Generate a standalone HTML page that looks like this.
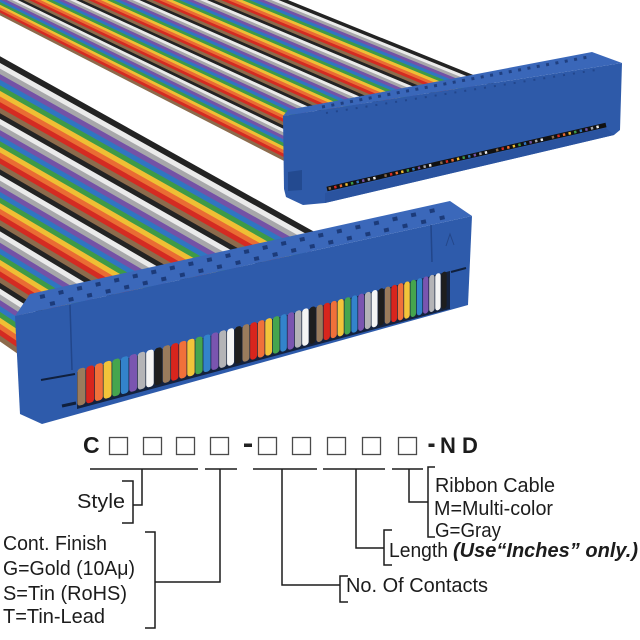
<!DOCTYPE html>
<html><head><meta charset="utf-8">
<style>
html,body{margin:0;padding:0;background:#fff;}
svg{display:block}
.c0{stroke:#8c6b4c}.c1{stroke:#d42b22}.c2{stroke:#ea6c33}.c3{stroke:#efbf34}.c4{stroke:#3e9a47}.c5{stroke:#2f76c2}.c6{stroke:#7452a6}.c7{stroke:#a7a7aa}.c8{stroke:#ebebeb}.c9{stroke:#232323}
.f0{fill:#9a7b5c}.f1{fill:#d8251d}.f2{fill:#f0703a}.f3{fill:#f2c43a}.f4{fill:#45a54e}.f5{fill:#3383cb}.f6{fill:#7a55b0}.f7{fill:#b4b4b7}.f8{fill:#f4f4f4}.f9{fill:#1e1e1e}
text{font-family:"Liberation Sans",Arial,sans-serif;fill:#1c1c1c}
</style></head><body>
<svg width="640" height="640" viewBox="0 0 640 640" xmlns="http://www.w3.org/2000/svg">
<rect width="640" height="640" fill="#fff"/>
<g stroke-width="3.5" fill="none">
<line class="c0" x1="-50" y1="-12.2" x2="302.0" y2="168.2"/>
<line class="c1" x1="-50" y1="-14.8" x2="305.9" y2="166.5"/>
<line class="c2" x1="-50" y1="-17.2" x2="309.8" y2="164.8"/>
<line class="c3" x1="-50" y1="-19.8" x2="313.7" y2="163.1"/>
<line class="c4" x1="-50" y1="-22.2" x2="317.6" y2="161.4"/>
<line class="c5" x1="-50" y1="-24.8" x2="321.5" y2="159.7"/>
<line class="c6" x1="-50" y1="-27.2" x2="325.4" y2="158.0"/>
<line class="c7" x1="-50" y1="-29.8" x2="329.3" y2="156.3"/>
<line class="c8" x1="-50" y1="-32.2" x2="333.2" y2="154.6"/>
<line class="c9" x1="-50" y1="-34.8" x2="337.1" y2="152.9"/>
<line class="c0" x1="-50" y1="-37.2" x2="341.0" y2="151.2"/>
<line class="c1" x1="-50" y1="-39.8" x2="344.9" y2="149.5"/>
<line class="c2" x1="-50" y1="-42.2" x2="348.8" y2="147.8"/>
<line class="c3" x1="-50" y1="-44.8" x2="352.7" y2="146.1"/>
<line class="c4" x1="-50" y1="-47.2" x2="356.6" y2="144.4"/>
<line class="c5" x1="-50" y1="-49.8" x2="360.5" y2="142.7"/>
<line class="c6" x1="-50" y1="-52.2" x2="364.4" y2="141.0"/>
<line class="c7" x1="-50" y1="-54.8" x2="368.3" y2="139.3"/>
<line class="c8" x1="-50" y1="-57.2" x2="372.2" y2="137.6"/>
<line class="c9" x1="-50" y1="-59.8" x2="376.1" y2="135.9"/>
<line class="c0" x1="-50" y1="-62.2" x2="380.0" y2="134.2"/>
<line class="c1" x1="-50" y1="-64.8" x2="383.9" y2="132.5"/>
<line class="c2" x1="-50" y1="-67.2" x2="387.8" y2="130.8"/>
<line class="c3" x1="-50" y1="-69.8" x2="391.7" y2="129.1"/>
<line class="c4" x1="-50" y1="-72.2" x2="395.6" y2="127.4"/>
<line class="c5" x1="-50" y1="-74.8" x2="399.5" y2="125.7"/>
<line class="c6" x1="-50" y1="-77.2" x2="403.4" y2="124.0"/>
<line class="c7" x1="-50" y1="-79.8" x2="407.3" y2="122.3"/>
<line class="c8" x1="-50" y1="-82.2" x2="411.2" y2="120.6"/>
<line class="c9" x1="-50" y1="-84.8" x2="415.1" y2="118.9"/>
<line class="c0" x1="-50" y1="-87.2" x2="419.0" y2="117.2"/>
<line class="c1" x1="-50" y1="-89.8" x2="422.9" y2="115.5"/>
<line class="c2" x1="-50" y1="-92.2" x2="426.8" y2="113.8"/>
<line class="c3" x1="-50" y1="-94.8" x2="430.7" y2="112.1"/>
<line class="c4" x1="-50" y1="-97.2" x2="434.6" y2="110.4"/>
<line class="c5" x1="-50" y1="-99.8" x2="438.5" y2="108.7"/>
<line class="c6" x1="-50" y1="-102.2" x2="442.4" y2="107.0"/>
<line class="c7" x1="-50" y1="-104.8" x2="446.3" y2="105.3"/>
<line class="c8" x1="-50" y1="-107.2" x2="450.2" y2="103.6"/>
<line class="c9" x1="-50" y1="-109.8" x2="454.1" y2="101.9"/>
<line class="c0" x1="-50" y1="-112.2" x2="458.0" y2="100.2"/>
<line class="c1" x1="-50" y1="-114.8" x2="461.9" y2="98.5"/>
<line class="c2" x1="-50" y1="-117.2" x2="465.8" y2="96.8"/>
<line class="c3" x1="-50" y1="-119.8" x2="469.7" y2="95.1"/>
<line class="c4" x1="-50" y1="-122.2" x2="473.6" y2="93.4"/>
<line class="c5" x1="-50" y1="-124.8" x2="477.5" y2="91.7"/>
<line class="c6" x1="-50" y1="-127.2" x2="481.4" y2="90.0"/>
<line class="c7" x1="-50" y1="-129.8" x2="485.3" y2="88.3"/>
<line class="c8" x1="-50" y1="-132.2" x2="489.2" y2="86.6"/>
<line class="c9" x1="-50" y1="-134.8" x2="493.1" y2="84.9"/>
</g>
<path d="M283,116 L622,63 L620,130 L614,135 L325,203 L303,205 L286,197 L284,189 Z" fill="#2e5aa9"/>
<path d="M283,116 L622,63 L592,52 L288,110 Z" fill="#3a67b9"/>
<line x1="322" y1="107" x2="588" y2="57" stroke="#1f3f80" stroke-width="3" stroke-dasharray="3 6.5"/>
<line x1="326" y1="113" x2="596" y2="70" stroke="#22468c" stroke-width="2" stroke-dasharray="2 8"/>
<path d="M325,193 L606,128 L614,135 L325,203 Z" fill="#2a539f"/>
<path d="M288,172 L302,170 L302,190 L288,191 Z" fill="#234a90"/>
<line x1="327" y1="189" x2="606" y2="125" stroke="#111" stroke-width="4.5"/>
<g stroke-width="2.6" stroke-dasharray="2.4 54.84" fill="none">
<line class="c0" x1="327" y1="189" x2="606" y2="125" stroke-dashoffset="-1.66"/>
<line class="c1" x1="327" y1="189" x2="606" y2="125" stroke-dashoffset="-7.38"/>
<line class="c2" x1="327" y1="189" x2="606" y2="125" stroke-dashoffset="-13.11"/>
<line class="c3" x1="327" y1="189" x2="606" y2="125" stroke-dashoffset="-18.83"/>
<line class="c4" x1="327" y1="189" x2="606" y2="125" stroke-dashoffset="-24.56"/>
<line class="c5" x1="327" y1="189" x2="606" y2="125" stroke-dashoffset="-30.28"/>
<line class="c6" x1="327" y1="189" x2="606" y2="125" stroke-dashoffset="-36.0"/>
<line class="c7" x1="327" y1="189" x2="606" y2="125" stroke-dashoffset="-41.73"/>
<line class="c8" x1="327" y1="189" x2="606" y2="125" stroke-dashoffset="-47.45"/>
</g>
<g stroke-width="5.8" fill="none">
<line class="c0" x1="-50" y1="303.2" x2="62.7" y2="381.6"/>
<line class="c1" x1="-50" y1="297.7" x2="68.1" y2="378.7"/>
<line class="c2" x1="-50" y1="292.1" x2="73.5" y2="375.9"/>
<line class="c3" x1="-50" y1="286.6" x2="78.9" y2="373.1"/>
<line class="c4" x1="-50" y1="281.0" x2="84.3" y2="370.2"/>
<line class="c5" x1="-50" y1="275.5" x2="89.7" y2="367.4"/>
<line class="c6" x1="-50" y1="270.0" x2="95.1" y2="364.6"/>
<line class="c7" x1="-50" y1="264.4" x2="100.5" y2="361.7"/>
<line class="c8" x1="-50" y1="258.9" x2="105.9" y2="358.9"/>
<line class="c9" x1="-50" y1="253.3" x2="111.3" y2="356.0"/>
<line class="c0" x1="-50" y1="247.8" x2="116.7" y2="353.2"/>
<line class="c1" x1="-50" y1="242.3" x2="122.1" y2="350.4"/>
<line class="c2" x1="-50" y1="236.7" x2="127.5" y2="347.5"/>
<line class="c3" x1="-50" y1="231.2" x2="132.9" y2="344.7"/>
<line class="c4" x1="-50" y1="225.6" x2="138.3" y2="341.8"/>
<line class="c5" x1="-50" y1="220.1" x2="143.7" y2="339.0"/>
<line class="c6" x1="-50" y1="214.6" x2="149.1" y2="336.2"/>
<line class="c7" x1="-50" y1="209.0" x2="154.5" y2="333.3"/>
<line class="c8" x1="-50" y1="203.5" x2="159.9" y2="330.5"/>
<line class="c9" x1="-50" y1="197.9" x2="165.3" y2="327.6"/>
<line class="c0" x1="-50" y1="192.4" x2="170.7" y2="324.8"/>
<line class="c1" x1="-50" y1="186.9" x2="176.1" y2="322.0"/>
<line class="c2" x1="-50" y1="181.3" x2="181.5" y2="319.1"/>
<line class="c3" x1="-50" y1="175.8" x2="186.9" y2="316.3"/>
<line class="c4" x1="-50" y1="170.2" x2="192.3" y2="313.4"/>
<line class="c5" x1="-50" y1="164.7" x2="197.7" y2="310.6"/>
<line class="c6" x1="-50" y1="159.2" x2="203.1" y2="307.8"/>
<line class="c7" x1="-50" y1="153.6" x2="208.5" y2="304.9"/>
<line class="c8" x1="-50" y1="148.1" x2="213.9" y2="302.1"/>
<line class="c9" x1="-50" y1="142.5" x2="219.3" y2="299.2"/>
<line class="c0" x1="-50" y1="137.0" x2="224.7" y2="296.4"/>
<line class="c1" x1="-50" y1="131.5" x2="230.1" y2="293.6"/>
<line class="c2" x1="-50" y1="125.9" x2="235.5" y2="290.7"/>
<line class="c3" x1="-50" y1="120.4" x2="240.9" y2="287.9"/>
<line class="c4" x1="-50" y1="114.8" x2="246.3" y2="285.0"/>
<line class="c5" x1="-50" y1="109.3" x2="251.7" y2="282.2"/>
<line class="c6" x1="-50" y1="103.8" x2="257.1" y2="279.4"/>
<line class="c7" x1="-50" y1="98.2" x2="262.5" y2="276.5"/>
<line class="c8" x1="-50" y1="92.7" x2="267.9" y2="273.7"/>
<line class="c9" x1="-50" y1="87.1" x2="273.3" y2="270.8"/>
<line class="c0" x1="-50" y1="81.6" x2="278.7" y2="268.0"/>
<line class="c1" x1="-50" y1="76.1" x2="284.1" y2="265.2"/>
<line class="c2" x1="-50" y1="70.5" x2="289.5" y2="262.3"/>
<line class="c3" x1="-50" y1="65.0" x2="294.9" y2="259.5"/>
<line class="c4" x1="-50" y1="59.4" x2="300.3" y2="256.6"/>
<line class="c5" x1="-50" y1="53.9" x2="305.7" y2="253.8"/>
<line class="c6" x1="-50" y1="48.4" x2="311.1" y2="251.0"/>
<line class="c7" x1="-50" y1="42.8" x2="316.5" y2="248.1"/>
<line class="c8" x1="-50" y1="37.3" x2="321.9" y2="245.3"/>
<line class="c9" x1="-50" y1="31.7" x2="327.3" y2="242.4"/>
</g>
<path d="M15,316 L472,216 L468,305 L42,424 L20,414 Z" fill="#2e5bab"/>
<path d="M15,316 L472,216 L450,201 L30,294 Z" fill="#3b68ba"/>
<line x1="40" y1="297" x2="440" y2="209" stroke="#1c3b7a" stroke-width="4" stroke-dasharray="5 14"/>
<line x1="50" y1="304" x2="450" y2="216" stroke="#1c3b7a" stroke-width="4" stroke-dasharray="5 14"/>
<path d="M70,305 L72,370" stroke="#22468a" stroke-width="1.5"/>
<path d="M431,225 L432,262" stroke="#22468a" stroke-width="1.5"/>
<path d="M446,246 L450,234 L454,245" stroke="#24478a" stroke-width="1" fill="none"/>
<path d="M77,372 L450,271 L450,309 L77,409 Z" fill="#14223e"/>
<path d="M41,380 L75,374" stroke="#10203d" stroke-width="2"/>
<path d="M62,406 L76,403" stroke="#10203d" stroke-width="3"/>
<path d="M451,272 L466,268" stroke="#10203d" stroke-width="2"/>
<g transform="matrix(1,-0.266,0,1,0,0)">
<rect class="f0" x="77.35" y="389.8" width="8.1" height="37" rx="3"/>
<rect class="f1" x="86.15" y="389.8" width="8.0" height="37" rx="3"/>
<rect class="f2" x="94.85" y="389.8" width="8.0" height="37" rx="3"/>
<rect class="f3" x="103.55" y="389.8" width="8.0" height="37" rx="3"/>
<rect class="f4" x="112.25" y="389.8" width="7.8" height="37" rx="3"/>
<rect class="f5" x="120.75" y="389.8" width="7.8" height="37" rx="3"/>
<rect class="f6" x="129.25" y="389.8" width="7.8" height="37" rx="3"/>
<rect class="f7" x="137.75" y="389.8" width="7.7" height="37" rx="3"/>
<rect class="f8" x="146.15" y="389.8" width="7.6" height="37" rx="3"/>
<rect class="f9" x="154.45" y="389.8" width="7.6" height="37" rx="3"/>
<rect class="f0" x="162.75" y="389.8" width="7.6" height="37" rx="3"/>
<rect class="f1" x="171.05" y="389.8" width="7.4" height="37" rx="3"/>
<rect class="f2" x="179.15" y="389.8" width="7.4" height="37" rx="3"/>
<rect class="f3" x="187.25" y="389.8" width="7.4" height="37" rx="3"/>
<rect class="f4" x="195.35" y="389.8" width="7.3" height="37" rx="3"/>
<rect class="f5" x="203.35" y="389.8" width="7.2" height="37" rx="3"/>
<rect class="f6" x="211.25" y="389.8" width="7.2" height="37" rx="3"/>
<rect class="f7" x="219.15" y="389.8" width="7.2" height="37" rx="3"/>
<rect class="f8" x="227.05" y="389.8" width="7.0" height="37" rx="3"/>
<rect class="f9" x="234.75" y="389.8" width="7.0" height="37" rx="3"/>
<rect class="f0" x="242.45" y="389.8" width="7.0" height="37" rx="3"/>
<rect class="f1" x="250.15" y="389.8" width="6.9" height="37" rx="3"/>
<rect class="f2" x="257.75" y="389.8" width="6.8" height="37" rx="3"/>
<rect class="f3" x="265.25" y="389.8" width="6.8" height="37" rx="3"/>
<rect class="f4" x="272.75" y="389.8" width="6.8" height="37" rx="3"/>
<rect class="f5" x="280.25" y="389.8" width="6.6" height="37" rx="3"/>
<rect class="f6" x="287.55" y="389.8" width="6.6" height="37" rx="3"/>
<rect class="f7" x="294.85" y="389.8" width="6.6" height="37" rx="3"/>
<rect class="f8" x="302.15" y="389.8" width="6.5" height="37" rx="3"/>
<rect class="f9" x="309.35" y="389.8" width="6.4" height="37" rx="3"/>
<rect class="f0" x="316.45" y="389.8" width="6.4" height="37" rx="3"/>
<rect class="f1" x="323.55" y="389.8" width="6.4" height="37" rx="3"/>
<rect class="f2" x="330.65" y="389.8" width="6.2" height="37" rx="3"/>
<rect class="f3" x="337.55" y="389.8" width="6.2" height="37" rx="3"/>
<rect class="f4" x="344.45" y="389.8" width="6.2" height="37" rx="3"/>
<rect class="f5" x="351.35" y="389.8" width="6.1" height="37" rx="3"/>
<rect class="f6" x="358.15" y="389.8" width="6.0" height="37" rx="3"/>
<rect class="f7" x="364.85" y="389.8" width="6.0" height="37" rx="3"/>
<rect class="f8" x="371.55" y="389.8" width="6.0" height="37" rx="3"/>
<rect class="f9" x="378.25" y="389.8" width="5.8" height="37" rx="3"/>
<rect class="f0" x="384.75" y="389.8" width="5.8" height="37" rx="3"/>
<rect class="f1" x="391.25" y="389.8" width="5.8" height="37" rx="3"/>
<rect class="f2" x="397.75" y="389.8" width="5.7" height="37" rx="3"/>
<rect class="f3" x="404.15" y="389.8" width="5.6" height="37" rx="3"/>
<rect class="f4" x="410.45" y="389.8" width="5.6" height="37" rx="3"/>
<rect class="f5" x="416.75" y="389.8" width="5.6" height="37" rx="3"/>
<rect class="f6" x="423.05" y="389.8" width="5.4" height="37" rx="3"/>
<rect class="f7" x="429.15" y="389.8" width="5.4" height="37" rx="3"/>
<rect class="f8" x="435.25" y="389.8" width="5.4" height="37" rx="3"/>
<rect class="f9" x="441.35" y="389.8" width="5.3" height="37" rx="3"/>
</g>
<text x="83" y="453" font-size="23" font-weight="bold">C</text>
<g fill="none" stroke="#4a4a4a" stroke-width="1.3">
<rect x="109.5" y="437.5" width="18" height="17"/>
<rect x="143.5" y="437.5" width="18" height="17"/>
<rect x="176.5" y="437.5" width="18" height="17"/>
<rect x="210.5" y="437.5" width="18" height="17"/>
<rect x="258.5" y="437.5" width="18" height="17"/>
<rect x="292.5" y="437.5" width="18" height="17"/>
<rect x="327.5" y="437.5" width="18" height="17"/>
<rect x="362.5" y="437.5" width="18" height="17"/>
<rect x="398.5" y="437.5" width="18" height="17"/>
</g>
<rect x="244" y="443.5" width="8" height="3.5" fill="#222"/>
<rect x="428.5" y="443.5" width="6" height="3.5" fill="#222"/>
<text x="440" y="453" font-size="22" font-weight="bold">N</text>
<text x="462" y="453" font-size="22" font-weight="bold">D</text>
<path d="M90,469H198 M142,469V505H133 M122,481H133V523H122 M205,469H237 M220,469V582H155 M145,532H155V628H145 M253,469H317 M282,469V585H340 M348,576H340V602H348 M323,469H385 M356,469V548H384 M392,530H384V565H392 M392,469H423 M409,469V502H428 M435,467H428V537H435" fill="none" stroke="#1c1c1c" stroke-width="1.5"/>
<text x="77" y="508" font-size="20" textLength="48" lengthAdjust="spacingAndGlyphs">Style</text>
<text x="3" y="550" font-size="20" textLength="104" lengthAdjust="spacingAndGlyphs">Cont. Finish</text>
<text x="3" y="575" font-size="20" textLength="132" lengthAdjust="spacingAndGlyphs">G=Gold (10Aμ)</text>
<text x="3" y="600" font-size="20" textLength="124" lengthAdjust="spacingAndGlyphs">S=Tin (RoHS)</text>
<text x="3" y="623" font-size="20" textLength="102" lengthAdjust="spacingAndGlyphs">T=Tin-Lead</text>
<text x="346" y="592" font-size="20" textLength="142" lengthAdjust="spacingAndGlyphs">No. Of Contacts</text>
<text x="389" y="557" font-size="20" textLength="59" lengthAdjust="spacingAndGlyphs">Length</text>
<text x="453" y="557" font-size="20" font-weight="bold" font-style="italic" textLength="185" lengthAdjust="spacingAndGlyphs">(Use“Inches” only.)</text>
<text x="435" y="492" font-size="20" textLength="120" lengthAdjust="spacingAndGlyphs">Ribbon Cable</text>
<text x="434" y="515" font-size="20" textLength="119" lengthAdjust="spacingAndGlyphs">M=Multi-color</text>
<text x="435" y="537" font-size="20" textLength="66" lengthAdjust="spacingAndGlyphs">G=Gray</text>
</svg>
</body></html>
